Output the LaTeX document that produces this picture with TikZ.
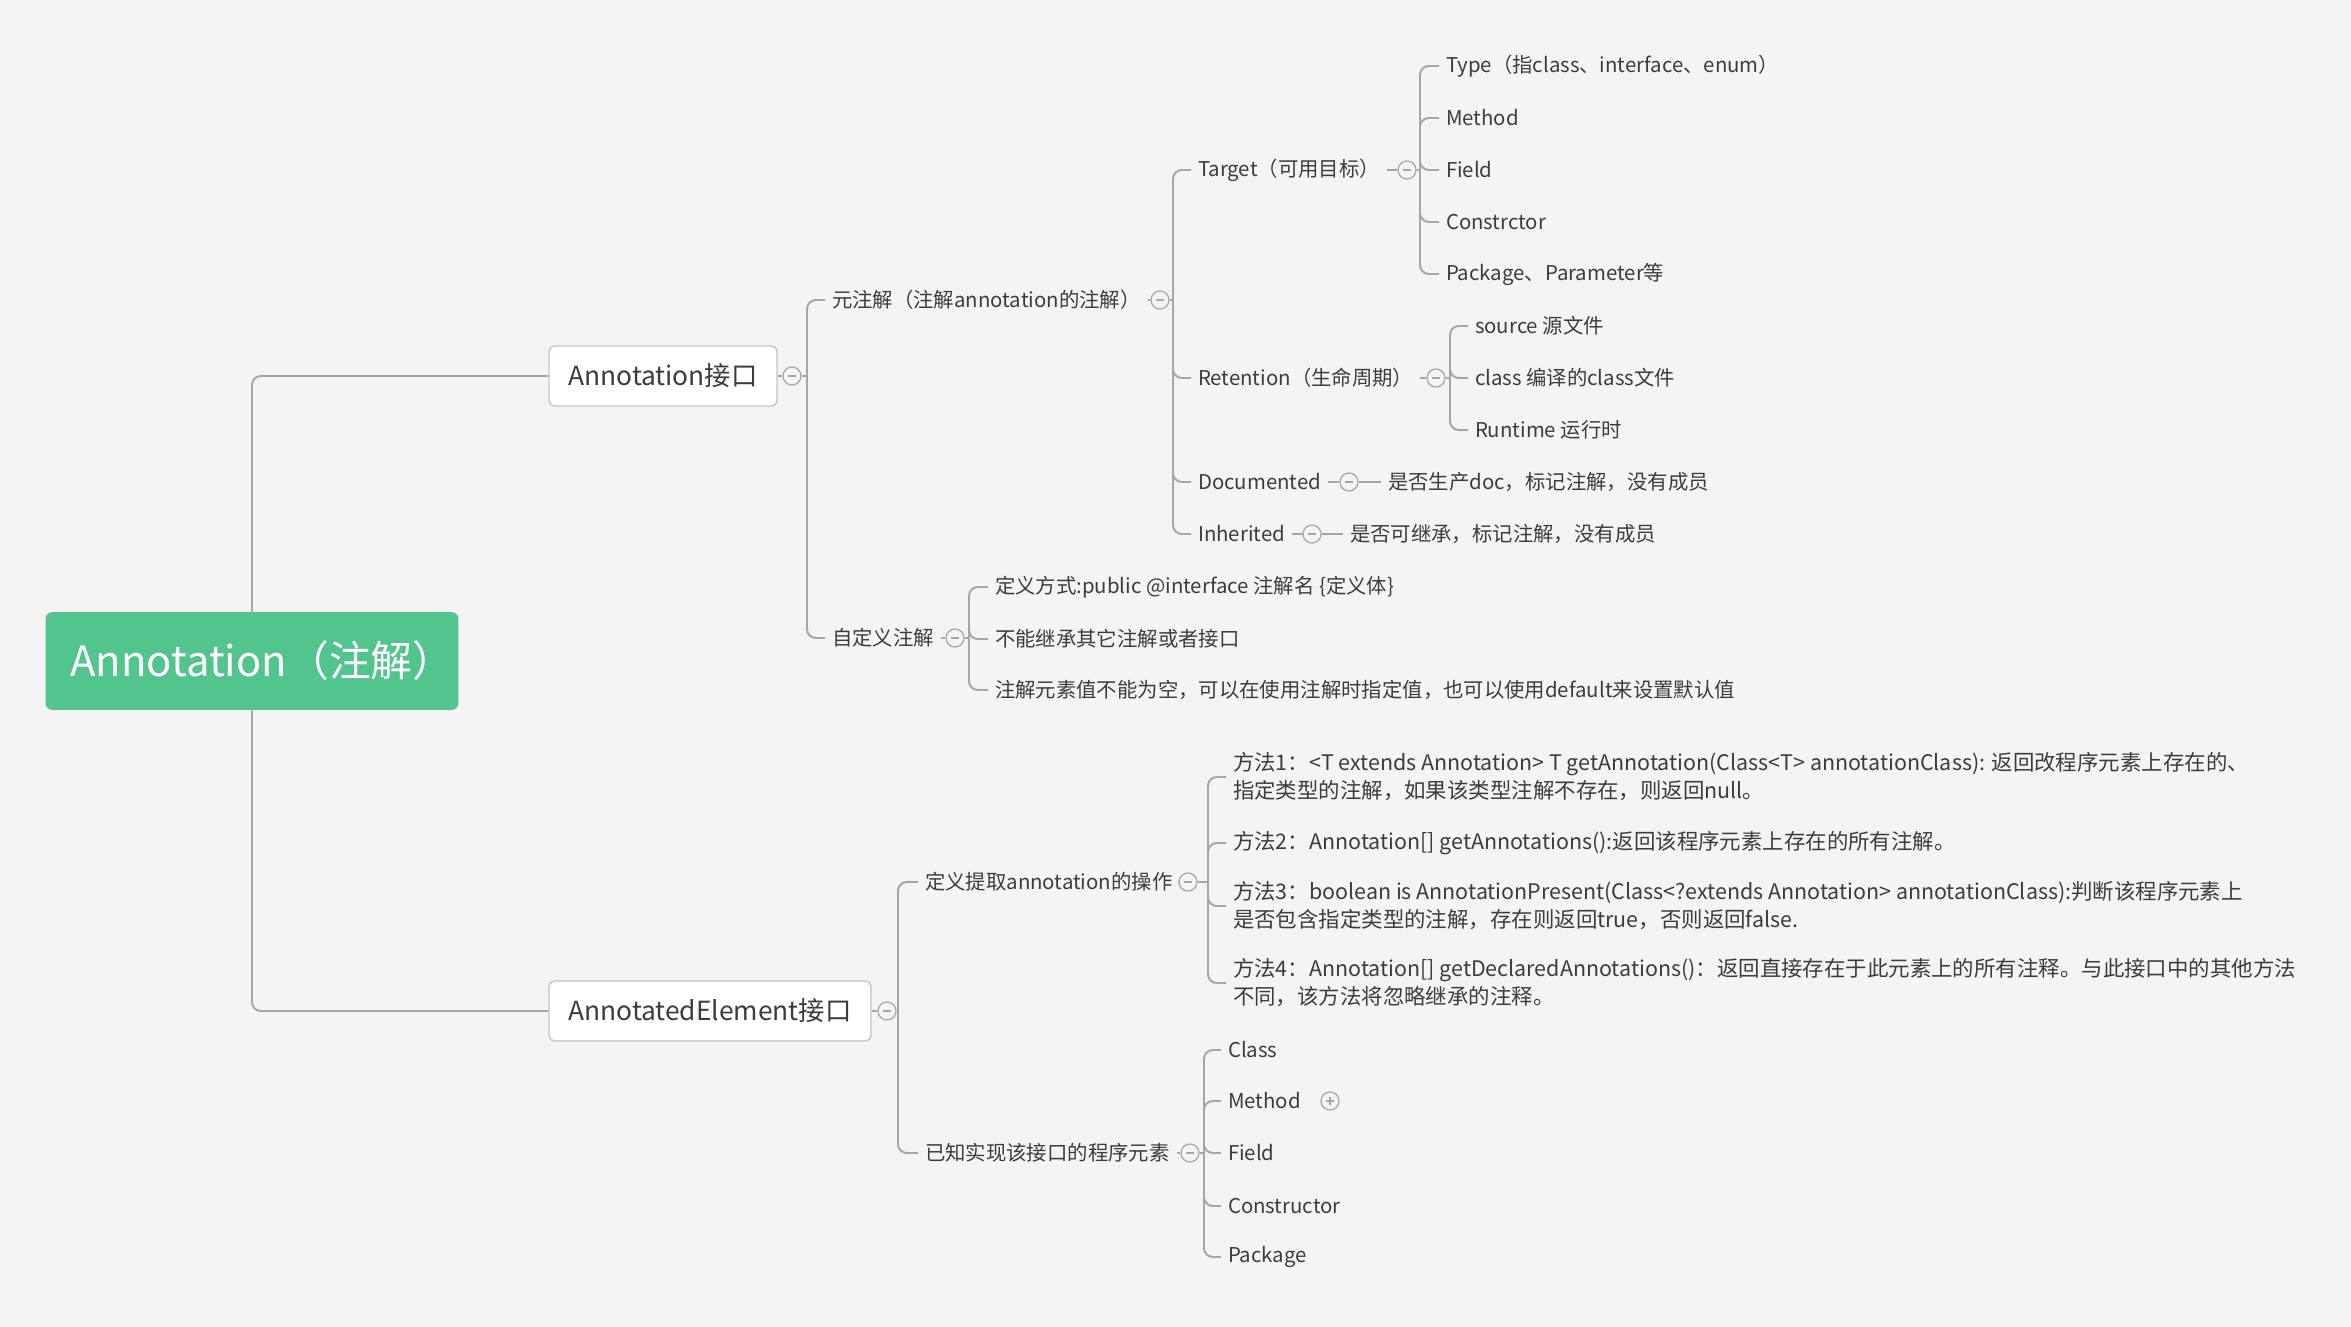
\documentclass[tikz,border=0pt]{standalone}
\usepackage{fontspec}
\setmainfont{Noto Sans CJK SC}

\definecolor{bgcol}{HTML}{F4F4F4}
\definecolor{rootgreen}{HTML}{52C48D}
\definecolor{linecol}{HTML}{A6A6A6}
\definecolor{boxline}{HTML}{C4C4C4}
\definecolor{textcol}{HTML}{3C3C3C}

% mind map styles
\tikzset{%
    rootbox/.style={fill=rootgreen,rounded corners=4pt,text=white,inner sep=0pt,
        minimum width=8.26cm,minimum height=1.96cm,font=\fontsize{23.8}{28}\selectfont},
    topic/.style={draw=boxline,fill=white,line width=0.8pt,rounded corners=3pt,text=textcol,
        inner sep=0pt,minimum height=1.2cm,font=\fontsize{15}{18}\selectfont},
    leaf/.style={anchor=west,inner sep=0pt,outer xsep=4pt,text=textcol,font=\fontsize{11.6}{14}\selectfont},
    method/.style={leaf,align=left,font=\fontsize{12.2}{15.9}\selectfont},
    link/.style={draw=linecol,line width=1.1pt,rounded corners=5pt},
    fold/.style={circle,draw=linecol,fill=bgcol,line width=0.7pt,minimum size=0.36cm,inner sep=0pt,
        path picture={\draw [linecol,line width=0.6pt] ([xshift=-2.2pt]path picture bounding box.center) -- ([xshift=2.2pt]path picture bounding box.center);}},
    unfold/.style={circle,draw=linecol,fill=bgcol,line width=0.7pt,minimum size=0.36cm,inner sep=0pt,
        path picture={\draw [linecol,line width=0.6pt] ([xshift=-2.2pt]path picture bounding box.center) -- ([xshift=2.2pt]path picture bounding box.center)
            ([yshift=-2.2pt]path picture bounding box.center) -- ([yshift=2.2pt]path picture bounding box.center);}},
}

\begin{document}
\begin{tikzpicture}[x=0.02cm,y=-0.02cm]

%\foldbranch{parent}{fold}{branch}{children}
\newcommand*{\foldbranch}[4]{%
	\draw [link] (#1.east) -- (#2.west);
	\draw [link] (#2.east) -- (#3);
	\foreach \c in {#4}
		\draw [link] (#3) |- (\c.west);
}

% background
\fill [bgcol] (0,0) rectangle (2351,1327);
\useasboundingbox (0,0) rectangle (2351,1327);

% main topics
\node [rootbox] (root) at (252,661) {Annotation（注解）\kern-0.5em};
\node [topic,minimum width=4.56cm] (ann) at (663,376) {Annotation接口};
\node [topic,minimum width=6.44cm] (elem) at (710,1011) {AnnotatedElement接口};

\draw [link] (root.north) |- (ann.west);
\draw [link] (root.south) |- (elem.west);

% Annotation接口
\node [leaf] (meta) at (825,300) {元注解（注解annotation的注解）};
\node [leaf] (cust) at (825,638) {自定义注解};
\node [fold] (annf) at (792,376) {};
\coordinate (annb) at (807,376);
\foldbranch{ann}{annf}{annb}{meta,cust}

% meta annotations
\node [leaf] (target) at (1191,170) {Target（可用目标）};
\node [leaf] (ret) at (1191,378) {Retention（生命周期）};
\node [leaf] (doc) at (1191,482) {Documented};
\node [leaf] (inh) at (1191,534) {Inherited};
\node [fold] (metaf) at (1160,300) {};
\coordinate (metab) at (1173,300);
\foldbranch{meta}{metaf}{metab}{target,ret,doc,inh}

\node [leaf] (type) at (1439,66) {Type（指class、interface、enum）};
\node [leaf] (tmethod) at (1439,118) {Method};
\node [leaf] (tfield) at (1439,170) {Field};
\node [leaf] (tcons) at (1439,222) {Constrctor};
\node [leaf] (tpack) at (1439,274) {Package、Parameter等};
\node [fold] (targetf) at (1407,170) {};
\coordinate (targetb) at (1420,170);
\foldbranch{target}{targetf}{targetb}{type,tmethod,tfield,tcons,tpack}

\node [leaf] (rsource) at (1468,326) {source 源文件};
\node [leaf] (rclass) at (1468,378) {class 编译的class文件};
\node [leaf] (rrun) at (1468,430) {Runtime 运行时};
\node [fold] (retf) at (1436,378) {};
\coordinate (retb) at (1450,378);
\foldbranch{ret}{retf}{retb}{rsource,rclass,rrun}

\node [leaf] (docnote) at (1381,482) {是否生产doc，标记注解，没有成员};
\node [fold] (docf) at (1349,482) {};
\draw [link] (doc) -- (docf) -- (docnote);

\node [leaf] (inhnote) at (1343,534) {是否可继承，标记注解，没有成员};
\node [fold] (inhf) at (1312,534) {};
\draw [link] (inh) -- (inhf) -- (inhnote);

% custom annotations
\node [leaf] (cdef) at (988,587) {定义方式:public @interface 注解名 \{定义体\}};
\node [leaf] (cnoext) at (988,639) {不能继承其它注解或者接口};
\node [leaf] (cnull) at (988,690) {注解元素值不能为空，可以在使用注解时指定值，也可以使用default来设置默认值};
\node [fold] (custf) at (955,638) {};
\coordinate (custb) at (969,638);
\foldbranch{cust}{custf}{custb}{cdef,cnoext,cnull}

% AnnotatedElement接口
\node [leaf] (ext) at (918,882) {定义提取annotation的操作};
\node [leaf] (known) at (918,1153) {已知实现该接口的程序元素};
\node [fold] (elemf) at (887,1011) {};
\coordinate (elemb) at (898,1011);
\foldbranch{elem}{elemf}{elemb}{ext,known}

\node [method] (m1) at (1226,777) {方法1：<T extends Annotation> T getAnnotation(Class<T> annotationClass): 返回改程序元素上存在的、\\指定类型的注解，如果该类型注解不存在，则返回null。};
\node [method] (m2) at (1226,843) {方法2：Annotation[] getAnnotations():返回该程序元素上存在的所有注解。};
\node [method] (m3) at (1226,906) {方法3：boolean is AnnotationPresent(Class<?extends Annotation> annotationClass):判断该程序元素上\\是否包含指定类型的注解，存在则返回true，否则返回false.};
\node [method] (m4) at (1226,983) {方法4：Annotation[] getDeclaredAnnotations()：返回直接存在于此元素上的所有注释。与此接口中的其他方法\\不同，该方法将忽略继承的注释。};
\node [fold] (extf) at (1188,882) {};
\coordinate (extb) at (1208,882);
\foldbranch{ext}{extf}{extb}{m1,m2,m3,m4}

\node [leaf] (kclass) at (1221,1050) {Class};
\node [leaf] (kmethod) at (1221,1101) {Method};
\node [leaf] (kfield) at (1221,1153) {Field};
\node [leaf] (kcons) at (1221,1206) {Constructor};
\node [leaf] (kpack) at (1221,1257) {Package};
\node [fold] (knownf) at (1190,1153) {};
\coordinate (knownb) at (1204,1153);
\foldbranch{known}{knownf}{knownb}{kclass,kmethod,kfield,kcons,kpack}
\node [unfold] (kmethodf) at (1330,1101) {};

\end{tikzpicture}
\end{document}
